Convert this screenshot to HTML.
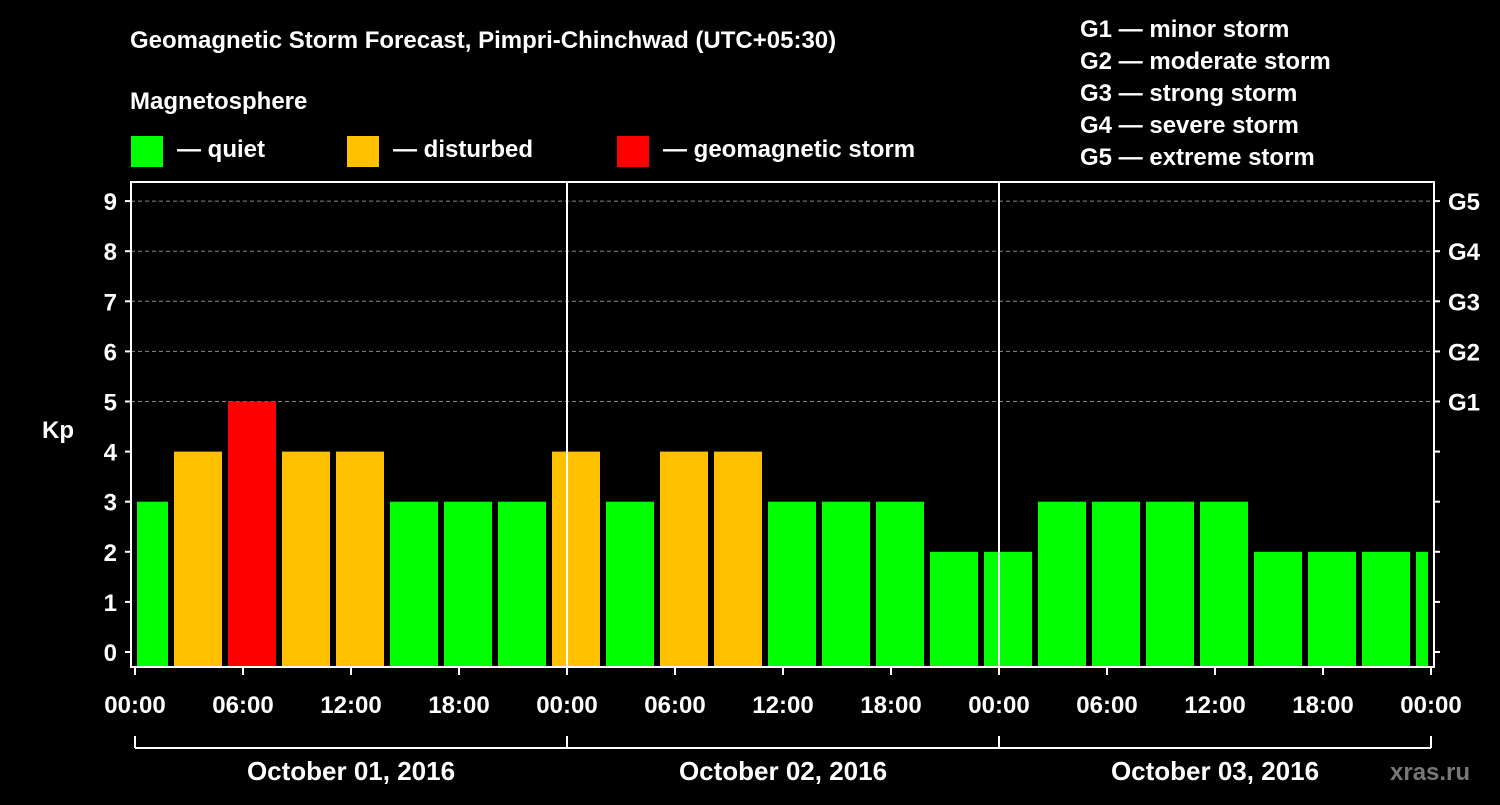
<!DOCTYPE html>
<html><head><meta charset="utf-8"><style>
html,body{margin:0;padding:0;background:#000;}
svg text{font-family:"Liberation Sans",Arial,sans-serif;font-weight:bold;fill:#fff;}
</style></head><body>
<svg id="c" width="1500" height="800" xmlns="http://www.w3.org/2000/svg">
<rect width="1500" height="800" fill="#000"/>
<text x="130" y="48" font-size="24">Geomagnetic Storm Forecast, Pimpri-Chinchwad (UTC+05:30)</text>
<text x="130" y="109" font-size="24">Magnetosphere</text>
<g><rect x="131" y="136" width="32" height="31" fill="#00ff00"/><text x="177" y="157" font-size="24">— quiet</text></g>
<g><rect x="347" y="136" width="32" height="31" fill="#ffc000"/><text x="393" y="157" font-size="24">— disturbed</text></g>
<g><rect x="617" y="136" width="32" height="31" fill="#ff0000"/><text x="663" y="157" font-size="24">— geomagnetic storm</text></g>
<g font-size="24">
<text x="1080" y="37">G1 — minor storm</text>
<text x="1080" y="69">G2 — moderate storm</text>
<text x="1080" y="101">G3 — strong storm</text>
<text x="1080" y="133">G4 — severe storm</text>
<text x="1080" y="165">G5 — extreme storm</text>
</g>
<g id="plot"></g>
<text x="1390" y="780" font-size="24" fill="#777" style="fill:#777">xras.ru</text>
</svg>
<script>
const kpValues=[3,4,5,4,4,3,3,3,4,3,4,4,3,3,3,2,2,3,3,3,3,2,2,2,2];
const yTicks=[0,1,2,3,4,5,6,7,8,9];
const gLabels=["G1","G2","G3","G4","G5"];
const xTickLabels=["00:00","06:00","12:00","18:00","00:00","06:00","12:00","18:00","00:00","06:00","12:00","18:00","00:00"];
const dayLabels=["October 01, 2016","October 02, 2016","October 03, 2016"];
const firstBarStartHour=-1; // bars start 2h before the first 3h boundary offset
const NS="http://www.w3.org/2000/svg";
const g=document.getElementById('plot');
const X0=135,PXH=18,PL=131,PR=1434,PT=182,PB=667;
const xs=h=>X0+h*PXH;
const ys=k=>652-k*50.1;
function el(t,a,p){const e=document.createElementNS(NS,t);for(const k in a)e.setAttribute(k,a[k]);(p||g).appendChild(e);return e;}
// grid
for(let k=5;k<=9;k++){const l=el('line',{x1:PL,x2:PR,y1:ys(k),y2:ys(k),stroke:'#888','stroke-dasharray':'4,3','stroke-width':1});

}
// bars
kpValues.forEach((v,i)=>{
 const hs=2+3*(i-1), he=hs+3;
 let x1=Math.max(xs(hs)+3,137), x2=Math.min(xs(he)-3,1428);
 const c=v>=5?'#ff0000':v>=4?'#ffc000':'#00ff00';
 const r=el('rect',{x:x1,y:ys(v),width:x2-x1,height:ys(0)+15-ys(v),fill:c});
 
 
});
// frame
const f=el('rect',{x:PL,y:PT,width:PR-PL,height:PB-PT,fill:'none',stroke:'#fff','stroke-width':2});


[1,2].forEach(d=>{const l=el('line',{x1:xs(24*d),x2:xs(24*d),y1:PT,y2:PB,stroke:'#fff','stroke-width':2});

});
// y ticks
yTicks.forEach(k=>{
 el('line',{x1:PL-6,x2:PL,y1:ys(k),y2:ys(k),stroke:'#fff','stroke-width':2});
 el('line',{x1:PR,x2:PR+6,y1:ys(k),y2:ys(k),stroke:'#fff','stroke-width':2});
 const t=el('text',{x:PL-14,y:ys(k)+9,'font-size':24,'text-anchor':'end'});t.textContent=k;
 
 
});
gLabels.forEach((s,i)=>{const t=el('text',{x:1448,y:ys(5+i)+9,'font-size':24});t.textContent=s;
 
 });
const yt=el('text',{x:42,y:438,'font-size':24});yt.textContent='Kp';


// x ticks
xTickLabels.forEach((s,i)=>{
 const x=xs(6*i);
 el('line',{x1:x,x2:x,y1:PB,y2:PB+8,stroke:'#fff','stroke-width':2});
 const t=el('text',{x:x,y:713,'font-size':24,'text-anchor':'middle'});t.textContent=s;
 
 
});
el('line',{x1:xs(0),x2:xs(72),y1:748,y2:748,stroke:'#fff','stroke-width':2});
[0,1,2,3].forEach(d=>el('line',{x1:xs(24*d),x2:xs(24*d),y1:736,y2:748,stroke:'#fff','stroke-width':2}));
dayLabels.forEach((s,i)=>{const t=el('text',{x:xs(24*i+12),y:780,'font-size':26,'text-anchor':'middle'});t.textContent=s;
 
 });
</script>
</body></html>
